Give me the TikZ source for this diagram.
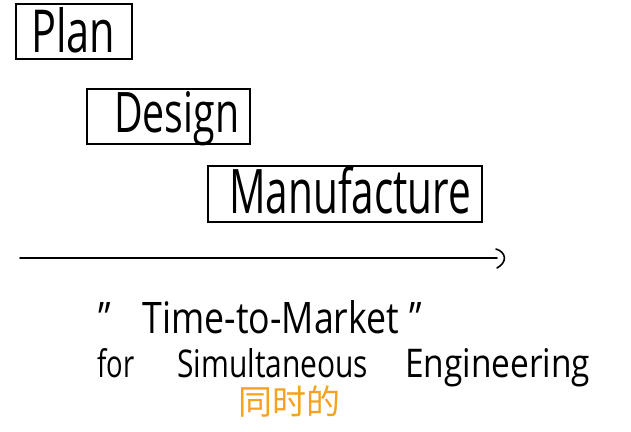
\documentclass[tikz,border=0pt]{standalone}
\usepackage{fontspec}
\usepackage{graphicx}
\setmainfont{Open Sans}
\newfontfamily\cjk{Noto Sans CJK SC}
\definecolor{hworange}{RGB}{245,162,30}
\newcommand{\hwtext}[3]{\resizebox{#1pt}{#2pt}{#3}}
\begin{document}
\begin{tikzpicture}[x=1pt,y=1pt,
  stage/.style={draw=black,line width=1.8pt,inner sep=0pt,minimum height=55pt,anchor=north west},
  label/.style={inner sep=0pt,anchor=base west,text=black},
  timeline/.style={line width=1.6pt,line cap=round}]
\useasboundingbox[fill=white] (0,0) rectangle (631,-431);
% boxes
\node[stage,minimum width=116pt] (planbox) at (15,-3) {};
\node[stage,minimum width=163pt] (designbox) at (86,-88) {};
\node[stage,minimum width=274pt,minimum height=56pt] (manubox) at (207,-165) {};
% box texts
\node[label] (plan) at (31,-52) {\hwtext{84}{45}{Plan}};
\node[label] (design) at (114,-132) {\hwtext{125}{41}{Design}};
\node[label] (manu) at (229,-213) {\hwtext{242}{47}{Manufacture}};
% time axis
\coordinate (tstart) at (20,-258);
\coordinate (tend) at (497,-258);
\draw[timeline] (tstart) -- (tend);
\coordinate (tipa) at (496,-249);
\coordinate (tipb) at (497,-268);
\draw[timeline] (tipa) .. controls (506,-252) and (508,-262) .. (tipb);
% caption
\node[label] (ttm) at (98,-333) {\hwtext{324}{33}{\char"22\hspace{0.9em}Time-to-Market\hspace{0.3em}\char"22}};
\node[label] (for) at (97,-377) {\hwtext{37}{29}{for}};
\node[label] (simul) at (177,-377) {\hwtext{191}{29}{Simultaneous}};
\node[label] (engin) at (405,-377) {\hwtext{185}{29}{Engineering}};
\node[inner sep=0pt,text=hworange,font=\cjk\fontsize{34pt}{34pt}\selectfont] (tongshi) at (289,-402) {同时的};
\end{tikzpicture}
\end{document}
